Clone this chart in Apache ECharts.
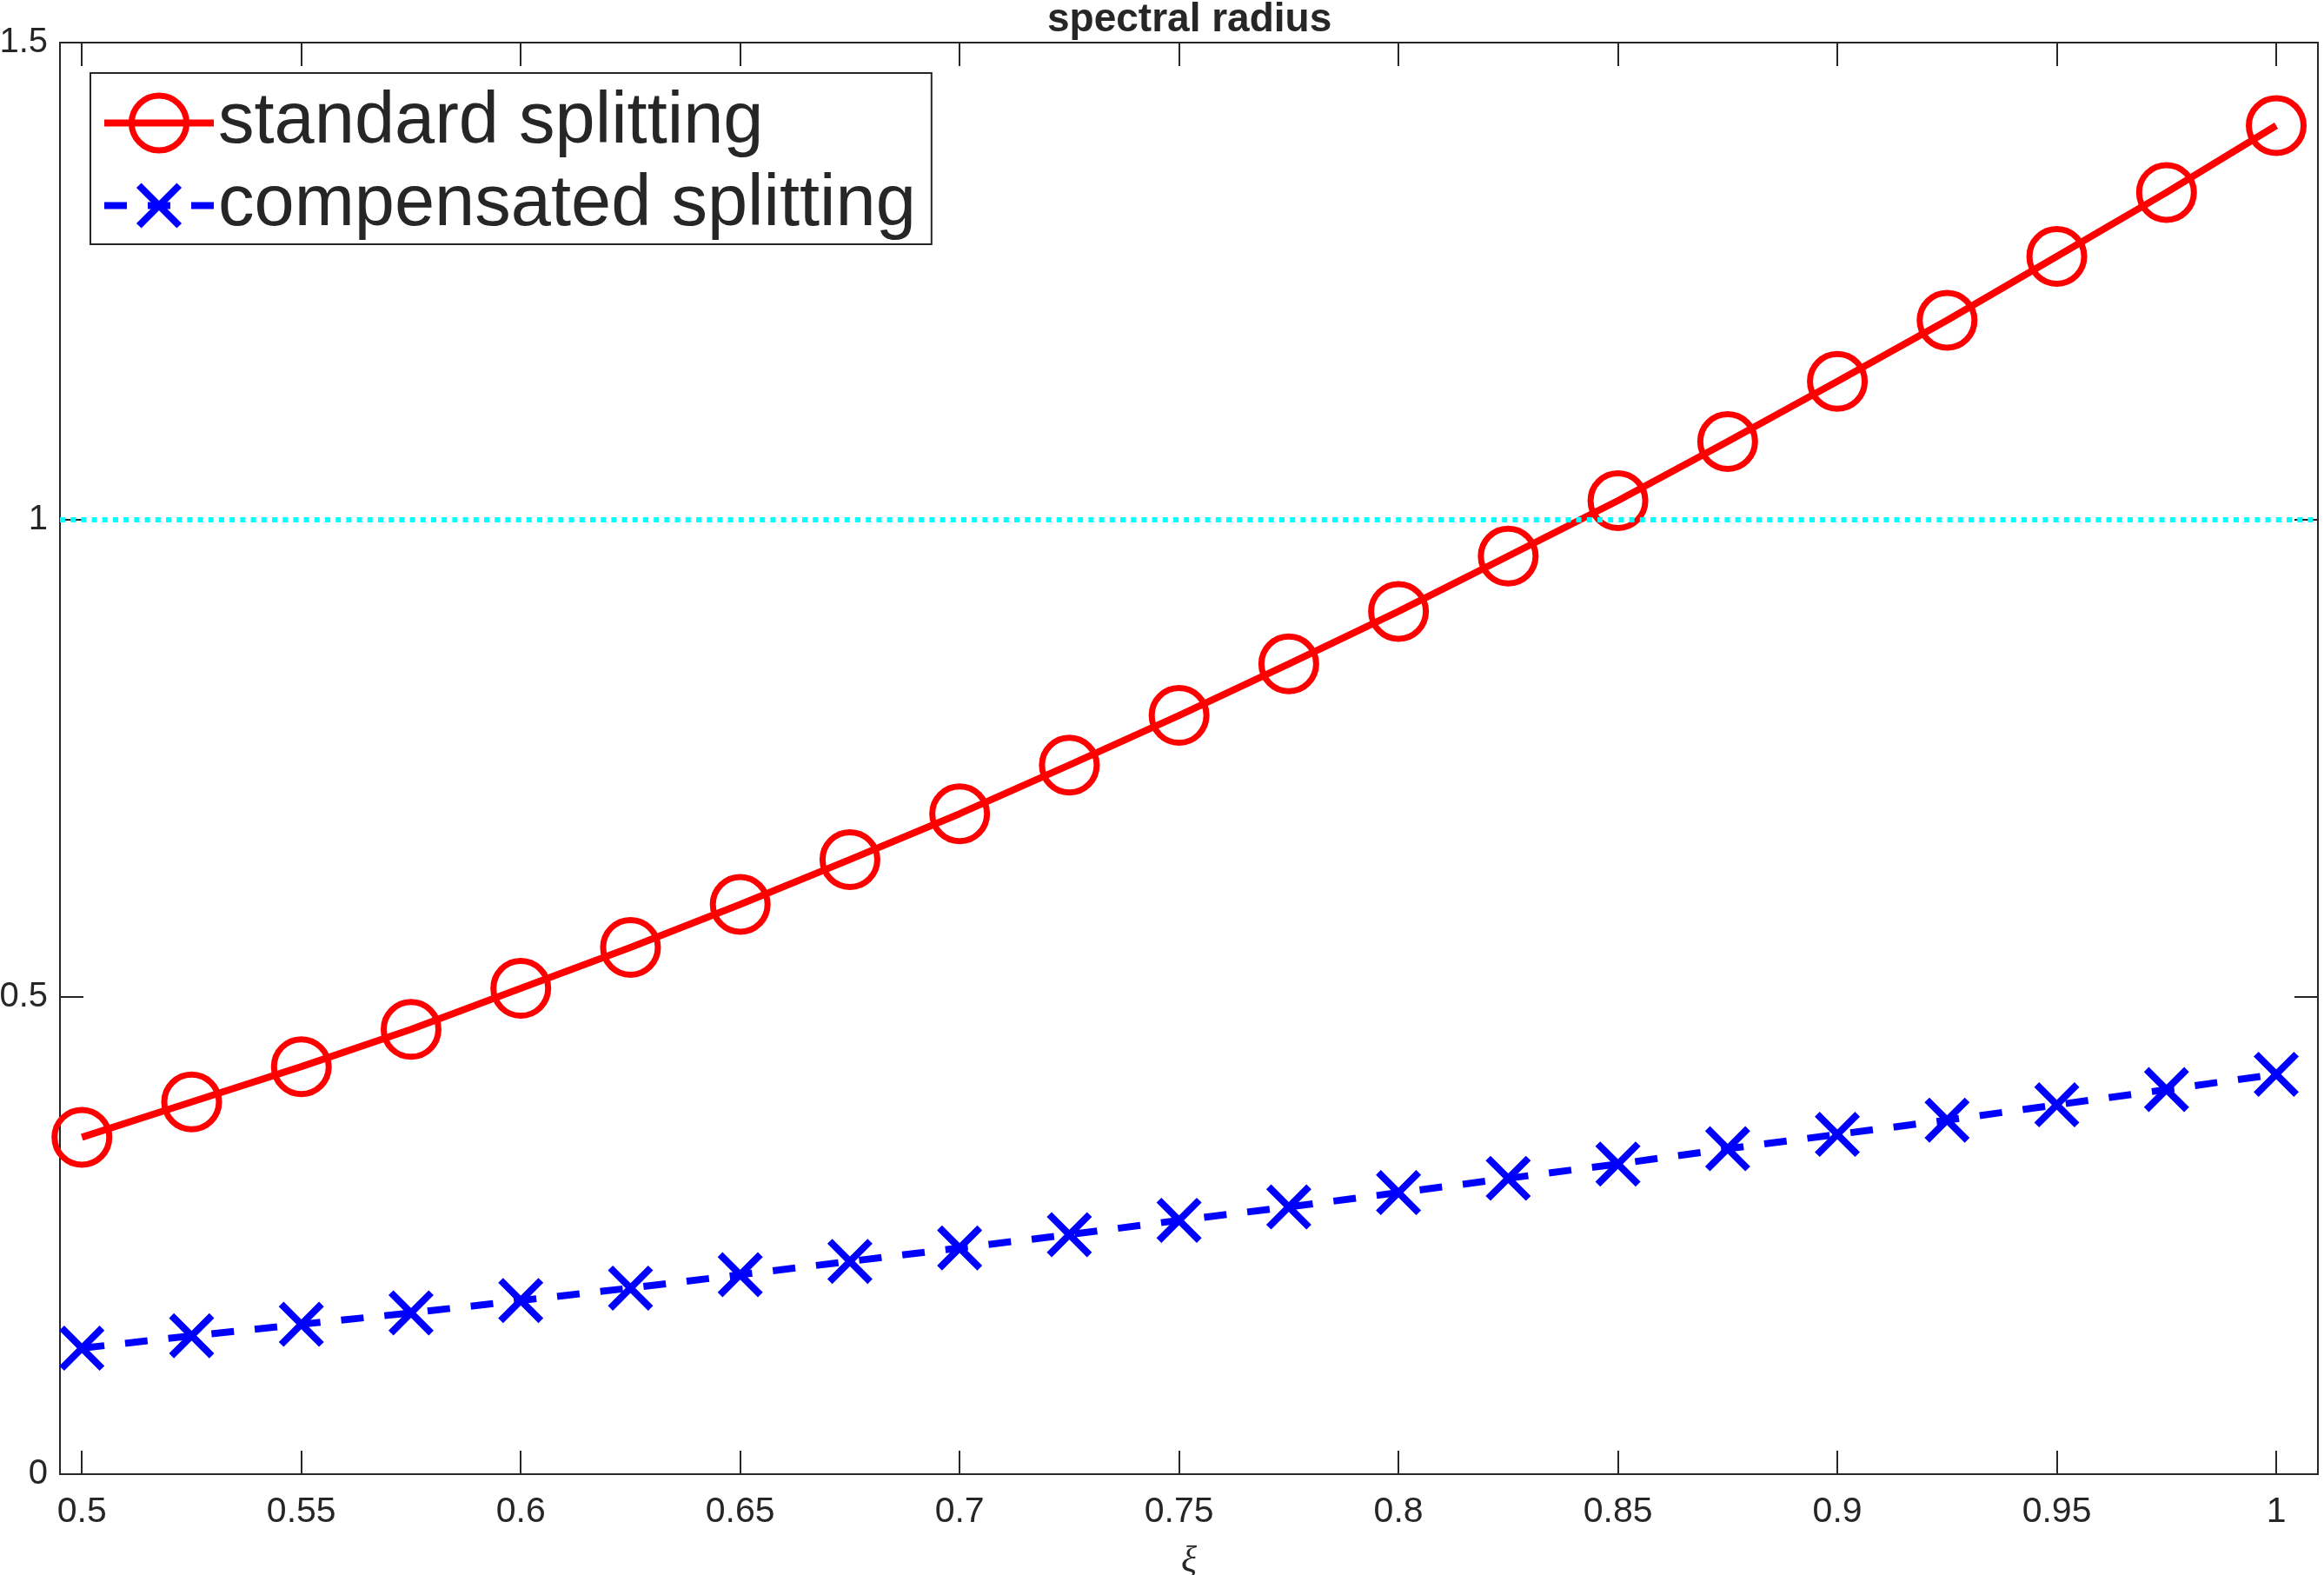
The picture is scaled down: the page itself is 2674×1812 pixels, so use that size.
<!DOCTYPE html>
<html>
    <head>
        <meta charset="UTF-8">
        <title>spectral radius</title>
        <script type="text/javascript" src="https://cdn.jsdelivr.net/npm/echarts@6/dist/echarts.min.js"></script>
    </head>
    <body style="height: 100%; margin: 0; overflow: hidden;">
        <div id="container" style="width: 2674px; height: 1812px;"></div>
    </body>
    <script type="text/javascript">
        var dom = document.getElementById("container");
        var myChart = echarts.init(dom, null, { renderer: 'canvas' });

        // xi values
        const xi = [0.5, 0.525, 0.55, 0.575, 0.6, 0.625, 0.65, 0.675, 0.7, 0.725, 0.75,
                    0.775, 0.8, 0.825, 0.85, 0.875, 0.9, 0.925, 0.95, 0.975, 1.0];
        // spectral radius, standard splitting
        const standardSplitting = [0.353, 0.390, 0.427, 0.466, 0.509, 0.552, 0.597, 0.644, 0.692, 0.743, 0.795,
                                   0.849, 0.904, 0.962, 1.020, 1.082, 1.145, 1.209, 1.276, 1.343, 1.413];
        // spectral radius, compensated splitting
        const compensatedSplitting = [0.132, 0.145, 0.157, 0.169, 0.182, 0.195, 0.209, 0.223, 0.237, 0.251, 0.266,
                                      0.280, 0.295, 0.310, 0.325, 0.341, 0.356, 0.371, 0.387, 0.403, 0.419];
        const xTicks = [0.5, 0.55, 0.6, 0.65, 0.7, 0.75, 0.8, 0.85, 0.9, 0.95, 1];
        const yTicks = [0, 0.5, 1, 1.5];
        const threshold = 1;

        const axisColor = '#262626';
        const font = 'Liberation Sans';
        // x marker with some empty room round it, so legend and plot get the same size
        const crossSymbol = 'path://M-1.8,-1.8M0,0L10,10M10,0L0,10M11.8,11.8';

        function pairs(ys) {
            return xi.map(function (x, i) { return [x, ys[i]]; });
        }

        var tickCommon = {
            show: true,
            inside: true,
            length: 27,
            lineStyle: { color: axisColor, width: 2 }
        };

        var option = {
            animation: false,
            backgroundColor: '#ffffff',
            title: {
                text: 'spectral radius',
                left: 1205,
                top: 0,
                padding: 0,
                textStyle: {
                    fontFamily: font,
                    fontWeight: 'bold',
                    fontSize: 46,
                    color: axisColor
                }
            },
            grid: {
                left: 69,
                right: 7,
                top: 49,
                bottom: 116,
                outerBoundsMode: 'none',
                containLabel: false
            },
            legend: {
                orient: 'vertical',
                left: 104,
                top: 84,
                padding: [16, 18, 3, 12],
                itemWidth: 126,
                itemHeight: 79,
                itemGap: 12,
                backgroundColor: '#ffffff',
                borderColor: axisColor,
                borderWidth: 2,
                borderRadius: 0,
                textStyle: {
                    fontFamily: font,
                    fontSize: 83,
                    color: axisColor
                },
                data: [
                    {
                        name: 'standard splitting',
                        itemStyle: { borderWidth: 7, borderColor: '#ff0000', color: 'rgba(0,0,0,0)' },
                        lineStyle: { width: 8, color: '#ff0000', type: 'solid' }
                    },
                    {
                        name: 'compensated splitting',
                        itemStyle: { borderWidth: 8, borderColor: '#0000ff', color: 'rgba(0,0,0,0)' },
                        lineStyle: { width: 8, color: '#0000ff', type: [26, 24] }
                    }
                ]
            },
            xAxis: [
                {
                    type: 'value',
                    min: 0.495,
                    max: 1.0095,
                    name: 'ξ',
                    nameLocation: 'middle',
                    nameGap: 80,
                    nameTextStyle: {
                        fontFamily: 'Liberation Serif',
                        fontStyle: 'italic',
                        fontSize: 42,
                        color: axisColor
                    },
                    axisLine: { show: true, onZero: false, lineStyle: { color: axisColor, width: 2 } },
                    axisTick: Object.assign({ customValues: xTicks }, tickCommon),
                    axisLabel: {
                        customValues: xTicks,
                        margin: 23,
                        fontFamily: font,
                        fontSize: 41,
                        color: axisColor,
                        formatter: function (v) { return String(+v.toFixed(3)); }
                    },
                    splitLine: { show: false }
                },
                {
                    type: 'value',
                    position: 'top',
                    min: 0.495,
                    max: 1.0095,
                    axisLine: { show: true, onZero: false, lineStyle: { color: axisColor, width: 2 } },
                    axisTick: Object.assign({ customValues: xTicks }, tickCommon),
                    axisLabel: { show: false },
                    splitLine: { show: false }
                }
            ],
            yAxis: [
                {
                    type: 'value',
                    min: 0,
                    max: 1.5,
                    axisLine: { show: true, onZero: false, lineStyle: { color: axisColor, width: 2 } },
                    axisTick: Object.assign({ customValues: yTicks }, tickCommon),
                    axisLabel: {
                        customValues: yTicks,
                        margin: 14,
                        fontFamily: font,
                        fontSize: 40,
                        color: axisColor
                    },
                    splitLine: { show: false }
                },
                {
                    type: 'value',
                    position: 'right',
                    min: 0,
                    max: 1.5,
                    axisLine: { show: true, onZero: false, lineStyle: { color: axisColor, width: 2 } },
                    axisTick: Object.assign({ customValues: yTicks }, tickCommon),
                    axisLabel: { show: false },
                    splitLine: { show: false }
                }
            ],
            series: [
                {
                    name: 'standard splitting',
                    type: 'line',
                    xAxisIndex: 0,
                    yAxisIndex: 0,
                    data: pairs(standardSplitting),
                    symbol: 'circle',
                    symbolSize: 63,
                    showAllSymbol: true,
                    itemStyle: { color: 'rgba(0,0,0,0)', borderColor: '#ff0000', borderWidth: 7 },
                    lineStyle: { color: '#ff0000', width: 8, type: 'solid' },
                    emphasis: { disabled: true },
                    markLine: {
                        silent: true,
                        symbol: 'none',
                        label: { show: false },
                        lineStyle: { color: '#00ffff', width: 6, type: [6, 6.2] },
                        data: [{ yAxis: threshold }]
                    },
                    z: 3
                },
                {
                    name: 'compensated splitting',
                    type: 'line',
                    xAxisIndex: 0,
                    yAxisIndex: 0,
                    data: pairs(compensatedSplitting),
                    symbol: crossSymbol,
                    symbolSize: 63,
                    showAllSymbol: true,
                    itemStyle: { color: 'rgba(0,0,0,0)', borderColor: '#0000ff', borderWidth: 8 },
                    lineStyle: { color: '#0000ff', width: 8, type: [26, 24] },
                    emphasis: { disabled: true },
                    z: 3
                }
            ]
        };

        if (option && typeof option === 'object') {
            myChart.setOption(option);
        }
    </script>
</html>
